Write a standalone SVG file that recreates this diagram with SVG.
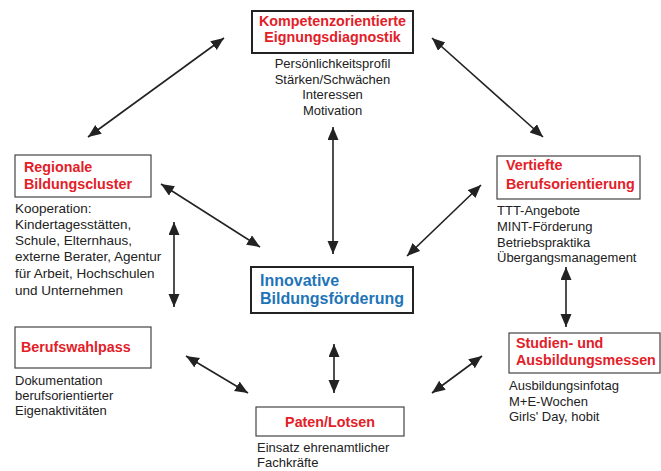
<svg xmlns="http://www.w3.org/2000/svg" width="661" height="471" viewBox="0 0 661 471">
<defs>
<style>
.box{fill:#fff;stroke:#444;stroke-width:1.2}
.boxb{fill:#fff;stroke:#222;stroke-width:2}
.t{font-family:"Liberation Sans",Arial,sans-serif;font-weight:bold;font-size:14.3px;fill:#e32028}
.tb{font-family:"Liberation Sans",Arial,sans-serif;font-weight:bold;font-size:16px;fill:#1f74b8}
.b{font-family:"Liberation Sans",Arial,sans-serif;font-size:13px;fill:#222}
.bl{font-size:13.5px}
.c{text-anchor:middle}
.a{stroke:#222;stroke-width:1.6;fill:none;marker-start:url(#ah);marker-end:url(#ah)}
</style>
<marker id="ah" markerUnits="userSpaceOnUse" markerWidth="14" markerHeight="12" refX="13" refY="5.5" orient="auto-start-reverse" viewBox="0 0 14 12">
<path d="M0,0 L13,5.5 L0,11 z" fill="#222"/>
</marker>
</defs>
<rect width="661" height="471" fill="#fff"/>
<g id="connectors">
<line class="a" x1="88" y1="137" x2="224" y2="38"/>
<line class="a" x1="432" y1="38" x2="543" y2="137"/>
<line class="a" x1="333" y1="127" x2="333" y2="254"/>
<line class="a" x1="161" y1="184" x2="260" y2="247"/>
<line class="a" x1="407" y1="256" x2="481" y2="185"/>
<line class="a" x1="174" y1="222" x2="174" y2="307"/>
<line class="a" x1="566" y1="267" x2="566" y2="327"/>
<line class="a" x1="186" y1="356" x2="248" y2="393"/>
<line class="a" x1="432" y1="393" x2="482" y2="356"/>
<line class="a" x1="334" y1="344" x2="334" y2="393"/>
</g>
<g id="kompetenz">
<rect class="boxb" x="252" y="11" width="161" height="42"/>
<text class="t c" x="332.5" y="26">Kompetenzorientierte</text>
<text class="t c" x="332.5" y="42">Eignungsdiagnostik</text>
<text class="b c" x="332.5" y="68">Persönlichkeitsprofil</text>
<text class="b c" x="332.5" y="83.5">Stärken/Schwächen</text>
<text class="b c" x="332.5" y="99">Interessen</text>
<text class="b c" x="332.5" y="114.5">Motivation</text>
</g>
<g id="regionale">
<rect class="box" x="15" y="155" width="136" height="42"/>
<text class="t" x="24" y="172">Regionale</text>
<text class="t" x="24" y="189">Bildungscluster</text>
<text class="b bl" x="15" y="213">Kooperation:</text>
<text class="b bl" x="15" y="229">Kindertagesstätten,</text>
<text class="b bl" x="15" y="245">Schule, Elternhaus,</text>
<text class="b bl" x="15" y="261">externe Berater, Agentur</text>
<text class="b bl" x="15" y="278">für Arbeit, Hochschulen</text>
<text class="b bl" x="15" y="295">und Unternehmen</text>
</g>
<g id="vertiefte">
<rect class="box" x="497" y="156" width="143" height="43"/>
<text class="t" x="506" y="170">Vertiefte</text>
<text class="t" x="506" y="189">Berufsorientierung</text>
<text class="b" x="497" y="215">TTT-Angebote</text>
<text class="b" x="497" y="231">MINT-Förderung</text>
<text class="b" x="497" y="247">Betriebspraktika</text>
<text class="b" x="497" y="262">Übergangsmanagement</text>
</g>
<g id="innovative">
<rect class="boxb" x="251" y="267" width="162" height="46"/>
<text class="tb" x="260" y="286">Innovative</text>
<text class="tb" x="260" y="304">Bildungsförderung</text>
</g>
<g id="berufswahlpass">
<rect class="box" x="15" y="327" width="136" height="41"/>
<text class="t" x="21" y="352">Berufswahlpass</text>
<text class="b" x="15" y="385">Dokumentation</text>
<text class="b" x="15" y="400">berufsorientierter</text>
<text class="b" x="15" y="415">Eigenaktivitäten</text>
</g>
<g id="studien">
<rect class="box" x="509" y="333" width="151" height="40"/>
<text class="t" x="516" y="348">Studien- und</text>
<text class="t" x="516" y="365">Ausbildungsmessen</text>
<text class="b" x="509" y="390">Ausbildungsinfotag</text>
<text class="b" x="509" y="406">M+E-Wochen</text>
<text class="b" x="509" y="421">Girls' Day, hobit</text>
</g>
<g id="paten">
<rect class="box" x="256" y="407" width="148" height="29"/>
<text class="t c" x="330" y="427">Paten/Lotsen</text>
<text class="b" x="257" y="452">Einsatz ehrenamtlicher</text>
<text class="b" x="257" y="467">Fachkräfte</text>
</g>
</svg>
